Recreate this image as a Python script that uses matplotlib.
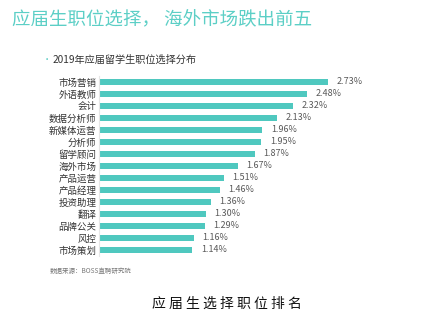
import matplotlib.pyplot as plt

plt.rcParams['font.family'] = ['Noto Sans CJK SC', 'DejaVu Sans']

jobs = ['市场营销', '外语教师', '会计', '数据分析师', '新媒体运营', '分析师', '留学顾问',
        '海外市场', '产品运营', '产品经理', '投资助理', '翻译', '品牌公关', '风控', '市场策划']
shares = [2.73, 2.48, 2.32, 2.13, 1.96, 1.95, 1.87, 1.67, 1.51, 1.46, 1.36, 1.30, 1.29, 1.16, 1.14]

TEAL = '#4fc8bf'
W, H = 429, 328

fig = plt.figure(figsize=(W / 100, H / 100), dpi=100)
fig.patch.set_facecolor('white')

ax = fig.add_axes([99 / W, 1 - 256 / H, 271 / W, 180 / H])
ypos = list(range(len(jobs)))
ax.barh(ypos, shares, height=0.42, color=TEAL, left=0)
ax.set_xlim(0.05, 0.05 + 271 / 85.5)
ax.set_ylim(len(jobs) - 0.5, -0.5)
for y, v in zip(ypos, shares):
    ax.text(v + 0.1, y, '%.2f%%' % v, va='center', ha='left', fontsize=6.5, color='#595959')
ax.set_yticks(ypos)
ax.set_yticklabels(jobs, fontsize=6.8, color='#333333')
ax.tick_params(axis='y', length=0, pad=2)
ax.set_xticks([])
for s in ['top', 'right', 'bottom']:
    ax.spines[s].set_visible(False)
ax.spines['left'].set_color('#e6e6e6')
ax.spines['left'].set_linewidth(0.8)

fig.text(12 / W, 1 - 20 / H, '应届生职位选择， 海外市场跌出前五', fontsize=13.3, color='#5ccfc6',
         va='center', ha='left')
fig.text(43 / W, 1 - 60 / H, '·', fontsize=6, color='#4fc8bf', va='center', ha='left')
fig.text(53 / W, 1 - 60 / H, '2019年应届留学生职位选择分布', fontsize=7.3, color='#333333',
         va='center', ha='left')
fig.text(50 / W, 1 - 271 / H, '数据来源：BOSS直聘研究院', fontsize=4.7, color='#777777',
         va='center', ha='left')
fig.text(227 / W, 1 - 304 / H, ' '.join('应届生选择职位排名'), fontsize=10, color='#111111',
         va='center', ha='center', fontweight='light')

fig.savefig('out.png', dpi=100)
